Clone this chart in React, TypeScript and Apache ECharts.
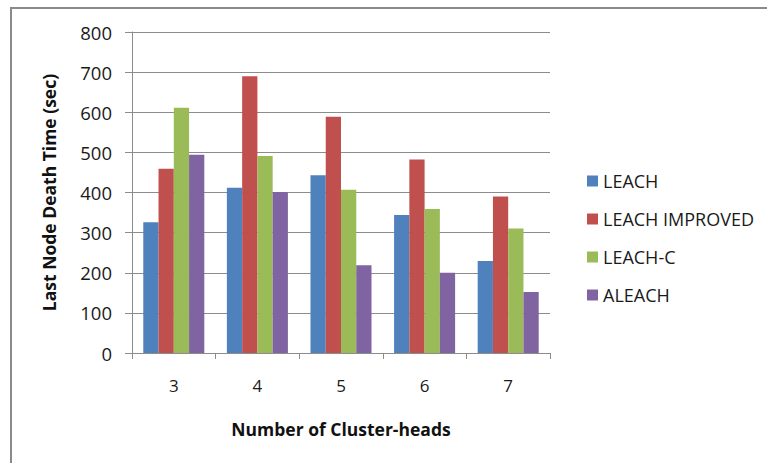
import React, { useEffect, useRef } from "react";
import * as echarts from "echarts";

const categories = ["3", "4", "5", "6", "7"];
const seriesNames = ["LEACH", "LEACH IMPROVED", "LEACH-C", "ALEACH"];
const leach = [326, 412, 443, 344, 229];
const leachImproved = [459, 690, 589, 482, 390];
const leachC = [611, 491, 407, 359, 310];
const aleach = [494, 401, 219, 200, 152];
const colors = ["#4F81BD", "#C0504D", "#9BBB59", "#8064A2"];
const yTicks = { min: 0, max: 800, interval: 100 };

const FONT = "'Open Sans', sans-serif";

export default function App() {
  const ref = useRef<HTMLDivElement>(null);
  useEffect(() => {
    if (!ref.current) return;
    const chart = echarts.init(ref.current, undefined, { renderer: "svg" });
    const values = [leach, leachImproved, leachC, aleach];
    chart.setOption({
      animation: false,
      backgroundColor: "#ffffff",
      textStyle: { fontFamily: FONT },
      grid: { left: 132, right: 217, top: 32, bottom: 110 },
      legend: {
        orient: "vertical",
        left: 582,
        top: 166,
        itemWidth: 11,
        itemHeight: 11,
        itemGap: 18,
        icon: "rect",
        data: seriesNames,
        textStyle: { fontFamily: FONT, fontSize: 18, color: "#1a1a1a", lineHeight: 20 },
      },
      xAxis: {
        type: "category",
        data: categories,
        name: "Number of Cluster-heads",
        nameLocation: "middle",
        nameGap: 67,
        nameTextStyle: { fontFamily: FONT, fontSize: 17.5, fontWeight: "bold", color: "#111" },
        axisLine: { lineStyle: { color: "#8c8c8c", width: 1 } },
        axisTick: { show: true, length: 6, lineStyle: { color: "#8c8c8c" } },
        axisLabel: { fontFamily: FONT, fontSize: 17, color: "#1a1a1a", margin: 24 },
      },
      yAxis: {
        type: "value",
        min: yTicks.min,
        max: yTicks.max,
        interval: yTicks.interval,
        name: "Last Node Death Time (sec)",
        nameLocation: "middle",
        nameGap: 74,
        nameMoveOverlap: false,
        nameTextStyle: { fontFamily: FONT, fontSize: 17.5, fontWeight: "bold", color: "#111" },
        axisLine: { show: true, lineStyle: { color: "#8c8c8c", width: 1 } },
        axisTick: { show: true, length: 7, lineStyle: { color: "#8c8c8c" } },
        axisLabel: { fontFamily: FONT, fontSize: 18.5, color: "#1a1a1a", margin: 20 },
        splitLine: { show: true, lineStyle: { color: "#8c8c8c", width: 1 } },
      },
      series: seriesNames.map((name, i) => ({
        name,
        type: "bar",
        data: values[i],
        barGap: "0%",
        barCategoryGap: "27%",
        itemStyle: { color: colors[i] },
      })),
      graphic: [
        {
          type: "line",
          shape: { x1: 10, y1: 8, x2: 767, y2: 8 },
          style: { stroke: "#8a8a8a", lineWidth: 2 },
        },
        {
          type: "line",
          shape: { x1: 11, y1: 7, x2: 11, y2: 463 },
          style: { stroke: "#8a8a8a", lineWidth: 2 },
        },
      ],
    });
    return () => chart.dispose();
  }, []);
  return (
    <div
      ref={ref}
      style={{ position: "fixed", left: 0, top: 0, width: 767, height: 463 }}
    />
  );
}
